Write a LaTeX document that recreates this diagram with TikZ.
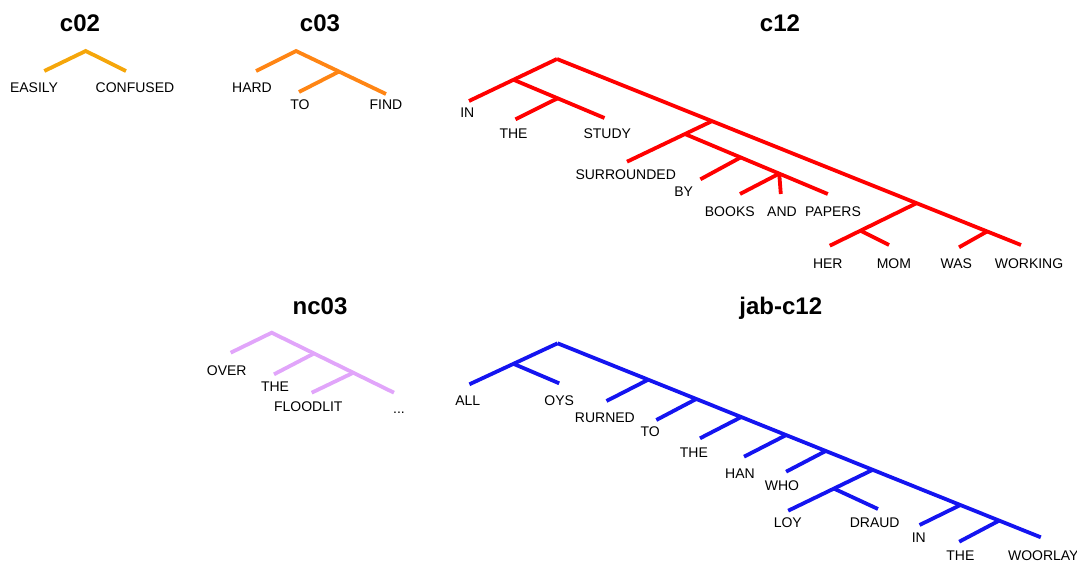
\documentclass[tikz,border=0pt]{standalone}
\usepackage{fontspec}
\setmainfont{Liberation Sans}
\usetikzlibrary{calc}
\definecolor{ctwo}{RGB}{245,166,10}
\definecolor{cthree}{RGB}{255,133,20}
\definecolor{ctwelve}{RGB}{255,0,0}
\definecolor{ncthree}{RGB}{225,165,250}
\definecolor{jab}{RGB}{20,20,240}
\begin{document}
\begin{tikzpicture}[x=1pt,y=-1pt,
  word/.style={font=\fontsize{14}{16}\selectfont, inner sep=0pt, text height=10pt, text depth=0pt, anchor=center},
  title/.style={font=\fontsize{24}{28}\selectfont\bfseries, inner sep=0pt, text height=17pt, text depth=0pt, anchor=center},
  branch/.style={line width=3.8pt},
  every path/.style={line join=miter}]
\useasboundingbox (0,0) rectangle (1077,563);

% ---------------- c02 ----------------
\node[title] (t02) at (80,23) {c02};
\coordinate (a02) at (85.7,51);
\coordinate (e02l) at (44.3,71);
\coordinate (e02r) at (126,71);
\draw[branch,ctwo] (e02l) -- (a02) -- (e02r);
\node[word] (w02easily) at (34,87) {EASILY};
\node[word] (w02confused) at (135,87) {CONFUSED};

% ---------------- c03 ----------------
\node[title] (t03) at (320,23) {c03};
\coordinate (a03) at (296,51);
\coordinate (e03hard) at (256,71);
\coordinate (e03find) at (386,94);
\coordinate (n03) at ($(a03)!0.478!(e03find)$);
\coordinate (e03to) at (299,92);
\draw[branch,cthree] (e03hard) -- (a03) -- (e03find);
\draw[branch,cthree] (n03) -- (e03to);
\node[word] (w03hard) at (252,87) {HARD};
\node[word] (w03to) at (300,104) {TO};
\node[word] (w03find) at (386,104) {FIND};

% ---------------- c12 ----------------
\node[title] (t12) at (780,23) {c12};
\coordinate (a12) at (557,59);
\coordinate (e12working) at (1021,245);
\coordinate (s12a) at ($(a12)!0.334!(e12working)$);
\coordinate (s12b) at ($(a12)!0.775!(e12working)$);
\coordinate (s12c) at ($(a12)!0.927!(e12working)$);
\draw[branch,ctwelve] (a12) -- (e12working);
% IN THE STUDY
\coordinate (e12in) at (469,101);
\coordinate (p12a) at ($(a12)!0.494!(e12in)$);
\coordinate (e12study) at (604.5,118);
\coordinate (p12b) at ($(p12a)!0.485!(e12study)$);
\coordinate (e12the) at (515.5,119.3);
\draw[branch,ctwelve] (a12) -- (e12in);
\draw[branch,ctwelve] (p12a) -- (e12study);
\draw[branch,ctwelve] (p12b) -- (e12the);
% SURROUNDED BY BOOKS AND PAPERS
\coordinate (e12sur) at (627,161.7);
\coordinate (q12a) at ($(s12a)!0.318!(e12sur)$);
\coordinate (e12papers) at (827.8,194);
\coordinate (q12b) at ($(q12a)!0.39!(e12papers)$);
\coordinate (q12c) at ($(q12a)!0.66!(e12papers)$);
\coordinate (e12by) at (700.4,179.3);
\coordinate (e12books) at (740,194);
\coordinate (e12and) at (780.8,194);
\draw[branch,ctwelve] (s12a) -- (e12sur);
\draw[branch,ctwelve] (q12a) -- (e12papers);
\draw[branch,ctwelve] (q12b) -- (e12by);
\draw[branch,ctwelve] (q12c) -- (e12books);
\draw[branch,ctwelve] (q12c) -- (e12and);
% HER MOM WAS WORKING
\coordinate (e12her) at (829.8,245.7);
\coordinate (r12a) at ($(s12b)!0.647!(e12her)$);
\coordinate (e12mom) at (889,245);
\coordinate (e12was) at (959,247.3);
\draw[branch,ctwelve] (s12b) -- (e12her);
\draw[branch,ctwelve] (r12a) -- (e12mom);
\draw[branch,ctwelve] (s12c) -- (e12was);
% words
\node[word] (w12in) at (467.3,112.7) {IN};
\node[word] (w12the) at (513.5,133.3) {THE};
\node[word] (w12study) at (607.3,133.3) {STUDY};
\node[word] (w12sur) at (625.7,174.7) {SURROUNDED};
\node[word] (w12by) at (683.7,191.7) {BY};
\node[word] (w12books) at (729.8,211.7) {BOOKS};
\node[word] (w12and) at (782,211.7) {AND};
\node[word] (w12papers) at (833,211.7) {PAPERS};
\node[word] (w12her) at (827.8,263.3) {HER};
\node[word] (w12mom) at (893.9,263.3) {MOM};
\node[word] (w12was) at (956.3,263.3) {WAS};
\node[word] (w12working) at (1029,263.3) {WORKING};

% ---------------- nc03 ----------------
\node[title] (tnc) at (320,306) {nc03};
\coordinate (anc) at (271.7,332.7);
\coordinate (encover) at (230.7,352.7);
\coordinate (encdots) at (394,392.7);
\coordinate (snca) at ($(anc)!0.346!(encdots)$);
\coordinate (sncb) at ($(anc)!0.667!(encdots)$);
\coordinate (encthe) at (274,374.3);
\coordinate (encflood) at (311.7,392.7);
\draw[branch,ncthree] (encover) -- (anc) -- (encdots);
\draw[branch,ncthree] (snca) -- (encthe);
\draw[branch,ncthree] (sncb) -- (encflood);
\node[word] (wncover) at (226.7,370) {OVER};
\node[word] (wncthe) at (275,386) {THE};
\node[word] (wncflood) at (308.3,406.7) {FLOODLIT};
\node[word] (wncdots) at (399,408) {...};

% ---------------- jab-c12 ----------------
\node[title] (tjab) at (780.8,306) {jab-c12};
\coordinate (ajb) at (557.6,343.3);
\coordinate (ejbwoorlay) at (1040.8,537.3);
\draw[branch,jab] (ajb) -- (ejbwoorlay);
\coordinate (ejball) at (469.4,384.3);
\coordinate (pjb) at ($(ajb)!0.5!(ejball)$);
\coordinate (ejboys) at (559.2,383.3);
\draw[branch,jab] (ajb) -- (ejball);
\draw[branch,jab] (pjb) -- (ejboys);
% spine junctions
\coordinate (sjb1) at ($(ajb)!0.1875!(ejbwoorlay)$);
\coordinate (sjb2) at ($(ajb)!0.287!(ejbwoorlay)$);
\coordinate (sjb3) at ($(ajb)!0.3801!(ejbwoorlay)$);
\coordinate (sjb4) at ($(ajb)!0.473!(ejbwoorlay)$);
\coordinate (sjb5) at ($(ajb)!0.555!(ejbwoorlay)$);
\coordinate (sjb6) at ($(ajb)!0.6521!(ejbwoorlay)$);
\coordinate (sjb7) at ($(ajb)!0.8336!(ejbwoorlay)$);
\coordinate (sjb8) at ($(ajb)!0.9139!(ejbwoorlay)$);
\coordinate (ejbrurned) at (606.5,401);
\coordinate (ejbto) at (656.3,420);
\coordinate (ejbthe) at (700,438.3);
\coordinate (ejbhan) at (744,456.7);
\coordinate (ejbwho) at (786.1,471.7);
\coordinate (ejbloy) at (788.2,510.7);
\coordinate (qjb) at ($(sjb6)!0.459!(ejbloy)$);
\coordinate (ejbdraud) at (878,509);
\coordinate (ejbin) at (919.6,525);
\coordinate (ejbthe2) at (959.2,541.7);
\draw[branch,jab] (sjb1) -- (ejbrurned);
\draw[branch,jab] (sjb2) -- (ejbto);
\draw[branch,jab] (sjb3) -- (ejbthe);
\draw[branch,jab] (sjb4) -- (ejbhan);
\draw[branch,jab] (sjb5) -- (ejbwho);
\draw[branch,jab] (sjb6) -- (ejbloy);
\draw[branch,jab] (qjb) -- (ejbdraud);
\draw[branch,jab] (sjb7) -- (ejbin);
\draw[branch,jab] (sjb8) -- (ejbthe2);
% words
\node[word] (wjball) at (467.8,400) {ALL};
\node[word] (wjboys) at (559.2,400) {OYS};
\node[word] (wjbrurned) at (604.9,417.3) {RURNED};
\node[word] (wjbto) at (650.2,431.7) {TO};
\node[word] (wjbthe) at (693.9,452.3) {THE};
\node[word] (wjbhan) at (740,473.3) {HAN};
\node[word] (wjbwho) at (782,485) {WHO};
\node[word] (wjbloy) at (787.8,522.3) {LOY};
\node[word] (wjbdraud) at (874.7,522.3) {DRAUD};
\node[word] (wjbin) at (918.8,537.3) {IN};
\node[word] (wjbthe2) at (960.4,555.7) {THE};
\node[word] (wjbwoorlay) at (1043.3,555.7) {WOORLAY};
\end{tikzpicture}
\end{document}
